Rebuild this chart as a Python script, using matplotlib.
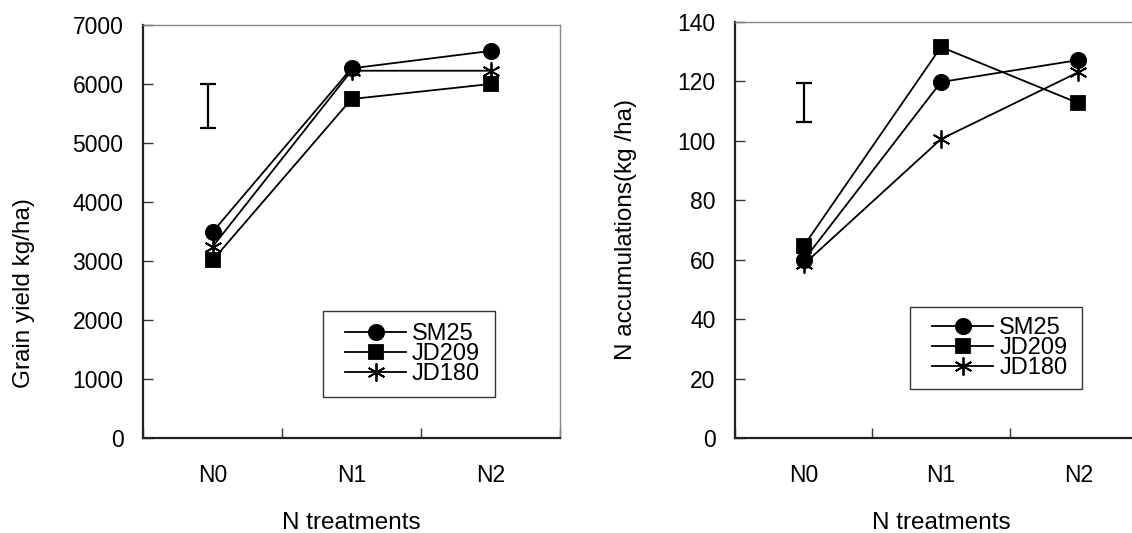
import matplotlib
matplotlib.use('Agg')
import matplotlib.pyplot as plt
from matplotlib.patches import Rectangle
import numpy as np

plt.rcParams['font.family'] = ['Liberation Sans', 'DejaVu Sans']

treatments = ['N0', 'N1', 'N2']
varieties = ['SM25', 'JD209', 'JD180']
markers = ['o', 's', (6, 2, 0)]
msizes = [11, 10.5, 13]

grain_yield = {
    'SM25': [3490, 6265, 6560],
    'JD209': [3010, 5745, 6000],
    'JD180': [3240, 6225, 6225],
}
n_accum = {
    'SM25': [59.8, 119.8, 127.2],
    'JD209': [64.6, 131.6, 112.7],
    'JD180': [58.4, 100.6, 123.1],
}
# LSD bar (low, high) drawn at N0
yield_bar = [5250, 6000]
accum_bar = [106.5, 119.6]

fig = plt.figure(figsize=(11.32, 5.33), dpi=100)
ax1 = fig.add_axes([143/1132, 95/533, 417/1132, 413/533])
ax2 = fig.add_axes([735/1132, 95/533, 412/1132, 416/533])

x = np.arange(len(treatments)) + 0.5


def style_axes(ax, ymax, ystep, ylabel, bar, bar_dx, data, box, label_xy):
    for v, m, ms in zip(varieties, markers, msizes):
        ax.plot(x, data[v], color='black', lw=1.3, marker=m, markersize=ms,
                markerfacecolor='black', markeredgecolor='black',
                markeredgewidth=1.3, label=v, clip_on=False)
    mid = np.mean(bar)
    ax.errorbar([x[0] + bar_dx], [mid], yerr=[[mid - bar[0]], [bar[1] - mid]],
                fmt='none', ecolor='black', elinewidth=1.6, capsize=6, capthick=1.6)
    ax.set_xlim(0, 3)
    ax.set_ylim(0, ymax)
    ax.set_yticks(np.arange(0, ymax + 1, ystep))
    ax.set_xticks([0, 1, 2, 3])
    ax.set_xticklabels([])
    ax.set_xticks(x, minor=True)
    ax.set_xticklabels(treatments, minor=True)
    ax.tick_params(axis='x', which='major', direction='in', length=7, width=1, color='#333333')
    ax.tick_params(axis='x', which='minor', length=0, pad=19, labelsize=16.5)
    ax.tick_params(axis='y', direction='in', length=7, width=1, color='#333333', pad=14, labelsize=16.5)
    for s in ['left', 'bottom']:
        ax.spines[s].set_color('#222222')
        ax.spines[s].set_linewidth(1.6)
    for s in ['top', 'right']:
        ax.spines[s].set_color('#888888')
        ax.spines[s].set_linewidth(1.0)
    ax.set_xlabel('N treatments', fontsize=17.5, labelpad=18)
    ax.set_ylabel(ylabel, fontsize=17.5)
    ax.yaxis.set_label_coords(*label_xy)

    # legend box drawn separately so the inner padding matches
    bx, by, bw, bh = box
    ax.add_patch(Rectangle((bx, by), bw, bh, transform=ax.transAxes, fill=False,
                           edgecolor='#333333', lw=1.0, zorder=5))
    ax.legend(loc='center left', bbox_to_anchor=(bx + 0.053, by, bw, bh), fontsize=17,
              handlelength=2.6, handletextpad=0.25, labelspacing=-0.08,
              borderpad=0, borderaxespad=0, frameon=False)


style_axes(ax1, 7000, 1000, 'Grain yield kg/ha)', yield_bar, -0.03, grain_yield,
           (0.431, 0.100, 0.414, 0.207), (-0.259, 0.351))
style_axes(ax2, 140, 20, 'N accumulations(kg /ha)', accum_bar, 0.0, n_accum,
           (0.425, 0.117, 0.418, 0.199), (-0.238, 0.5))

fig.savefig('out.png', dpi=100)
